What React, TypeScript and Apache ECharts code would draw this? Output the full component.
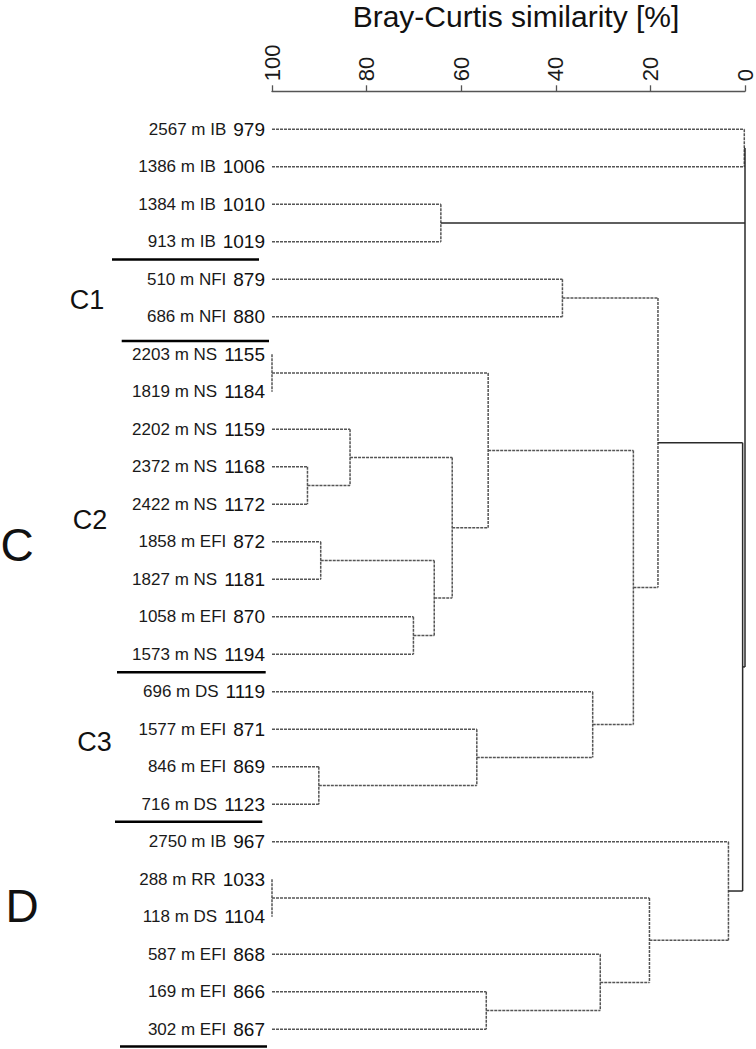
import React, { useEffect, useRef } from "react";
import * as echarts from "echarts";

// Leaf labels (top to bottom)
const leafDesc = [
  "2567 m IB", "1386 m IB", "1384 m IB", "913 m IB", "510 m NFI", "686 m NFI",
  "2203 m NS", "1819 m NS", "2202 m NS", "2372 m NS", "2422 m NS", "1858 m EFI",
  "1827 m NS", "1058 m EFI", "1573 m NS", "696 m DS", "1577 m EFI", "846 m EFI",
  "716 m DS", "2750 m IB", "288 m RR", "118 m DS", "587 m EFI", "169 m EFI", "302 m EFI",
];
const leafIds = [
  "979", "1006", "1010", "1019", "879", "880", "1155", "1184", "1159", "1168", "1172", "872",
  "1181", "870", "1194", "1119", "871", "869", "1123", "967", "1033", "1104", "868", "866", "867",
];

// Merge nodes: [name, similarity %, children (leaf index or node name), solid line]
const merges: [string, number, (number | string)[], boolean][] = [
  ["a", 0.15, [0, 1], false],
  ["b", 64.3, [2, 3], false],
  ["n1", 38.6, [4, 5], false],
  ["c2a", 100, [6, 7], false],
  ["c2b", 92.5, [9, 10], false],
  ["c2c", 83.5, [8, "c2b"], false],
  ["c2d", 89.7, [11, 12], false],
  ["c2e", 70.1, [13, 14], false],
  ["c2f", 65.7, ["c2d", "c2e"], false],
  ["c2g", 61.9, ["c2c", "c2f"], false],
  ["c2", 54.3, ["c2a", "c2g"], false],
  ["c3a", 90.1, [17, 18], false],
  ["c3b", 56.7, [16, "c3a"], false],
  ["c3", 32.2, [15, "c3b"], false],
  ["c23", 23.6, ["c2", "c3"], false],
  ["cg", 18.4, ["n1", "c23"], false],
  ["da", 100, [20, 21], false],
  ["db", 54.7, [23, 24], false],
  ["dc", 30.6, [22, "db"], false],
  ["dd", 20.2, ["da", "dc"], false],
  ["d", 3.5, [19, "dd"], false],
  ["p1", 0.5, ["cg", "d"], true],
  ["root", 0, ["a", "b", "p1"], true],
];

const xTicks = [0, 20, 40, 60, 80, 100];
const axisTitle = "Bray-Curtis similarity [%]";
const groupLabels = ["C1", "C2", "C3", "C", "D"];

function buildSegments() {
  const nodeY: Record<string, number> = {};
  const nodeSim: Record<string, number> = {};
  const segs: number[][] = [];
  const getY = (c: number | string) => (typeof c === "number" ? c : nodeY[c]);
  const getSim = (c: number | string) => (typeof c === "number" ? 100 : nodeSim[c]);
  for (const [name, sim, children, solid] of merges) {
    const ys = children.map(getY);
    const y0 = ys[0];
    const y1 = ys[ys.length - 1];
    segs.push([sim, y0, sim, y1, solid ? 1 : 0]);
    children.forEach((c) => {
      const cy = getY(c);
      const cs = getSim(c);
      segs.push([cs, cy, sim, cy, solid ? 1 : 0]);
    });
    nodeY[name] = (y0 + y1) / 2;
    nodeSim[name] = sim;
  }
  return segs;
}

const FONT = "Liberation Sans, Arial, Helvetica, sans-serif";

export default function App() {
  const ref = useRef<HTMLDivElement>(null);
  useEffect(() => {
    if (!ref.current) return;
    const chart = echarts.init(ref.current, undefined, { renderer: "svg" });
    const segs = buildSegments();
    const sepLine = (x1: number, x2: number, y: number) => ({
      type: "line",
      shape: { x1, y1: y, x2, y2: y },
      style: { stroke: "#000", lineWidth: 2.5 },
      silent: true,
    });
    const gText = (text: string, x: number, y: number, size: number) => ({
      type: "text",
      x,
      y,
      style: {
        text,
        fontSize: size,
        fontFamily: FONT,
        fill: "#111",
        align: "center",
        verticalAlign: "middle",
      },
      silent: true,
    });
    chart.setOption({
      animation: false,
      backgroundColor: "#fff",
      grid: { left: 272, right: 10.3, top: 129.3, bottom: 19.7, containLabel: false },
      xAxis: {
        type: "value",
        min: 0,
        max: 100,
        interval: 20,
        inverse: true,
        position: "top",
        offset: 38,
        axisLine: { show: true, onZero: false, lineStyle: { color: "#555", width: 1.3 } },
        axisTick: { show: true, length: 6, lineStyle: { color: "#555", width: 1.3 } },
        splitLine: { show: false },
        axisLabel: {
          rotate: -90,
          fontSize: 22,
          fontFamily: FONT,
          color: "#1a1a1a",
          margin: 10,
          formatter: (v: number) => (xTicks.includes(v) ? String(v) : ""),
        },
      },
      yAxis: {
        type: "value",
        min: 0,
        max: leafIds.length - 1,
        interval: 1,
        inverse: true,
        axisLine: { show: false },
        axisTick: { show: false },
        splitLine: { show: false },
        axisLabel: {
          margin: 7,
          formatter: (v: number) =>
            Number.isInteger(v) && v >= 0 && v < leafIds.length
              ? `{d|${leafDesc[v]}}{n|${leafIds[v]}}`
              : "",
          rich: {
            d: { fontSize: 17, fontFamily: FONT, color: "#1a1a1a", padding: [0, 7, 0, 0] },
            n: { fontSize: 19, fontFamily: FONT, color: "#111" },
          },
        },
      },
      graphic: [
        {
          type: "text",
          x: 516,
          y: 16,
          style: {
            text: axisTitle,
            fontSize: 30,
            fontFamily: FONT,
            fill: "#111",
            align: "center",
            verticalAlign: "middle",
          },
          silent: true,
        },
        sepLine(112, 259, 259.5),
        sepLine(121.7, 269, 341),
        sepLine(117, 265.7, 672.3),
        sepLine(115, 262.3, 821.7),
        sepLine(120, 267, 1046.5),
        gText(groupLabels[0], 87, 300, 27),
        gText(groupLabels[1], 90, 520, 27),
        gText(groupLabels[2], 94.5, 742, 27),
        gText(groupLabels[3], 17, 545, 46),
        gText(groupLabels[4], 22, 906, 46),
      ],
      series: [
        {
          type: "custom",
          coordinateSystem: "cartesian2d",
          clip: false,
          silent: true,
          dimensions: ["x1", "y1", "x2", "y2", "solid"],
          encode: { x: [0, 2], y: [1, 3] },
          data: segs,
          renderItem: (params: any, api: any) => {
            const p1 = api.coord([api.value(0), api.value(1)]);
            const p2 = api.coord([api.value(2), api.value(3)]);
            const solid = api.value(4) === 1;
            return {
              type: "line",
              shape: { x1: p1[0], y1: p1[1], x2: p2[0], y2: p2[1] },
              style: solid
                ? { stroke: "#2a2a2a", lineWidth: 1.5 }
                : { stroke: "#555", lineWidth: 1.5, lineDash: [3, 1] },
            };
          },
        },
      ],
    });
    return () => chart.dispose();
  }, []);
  return (
    <div
      ref={ref}
      style={{ position: "absolute", left: 0, top: 0, width: 756, height: 1049, background: "#fff" }}
    />
  );
}
